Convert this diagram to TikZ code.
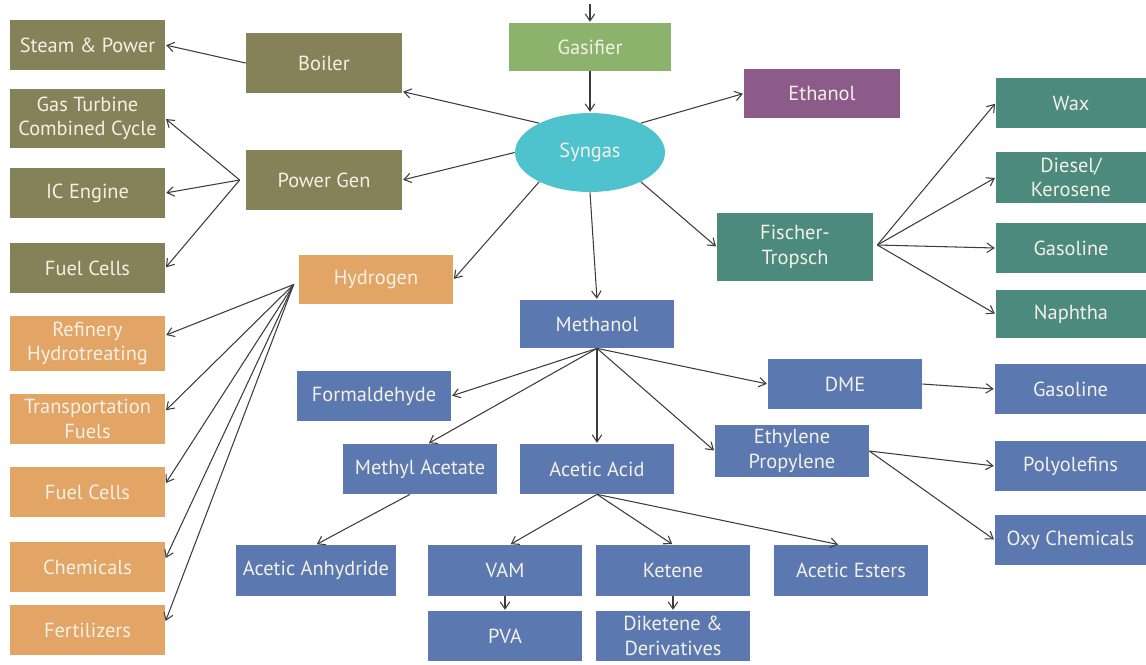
\documentclass[tikz,border=0pt]{standalone}
\usepackage{fontspec}
\setmainfont{PT Sans}
\usetikzlibrary{arrows.meta,calc,shapes.geometric}
\definecolor{cOlive}{HTML}{85825A}
\definecolor{cOrange}{HTML}{E2A566}
\definecolor{cGreen}{HTML}{8CB36C}
\definecolor{cTeal}{HTML}{4EC3CD}
\definecolor{cPurple}{HTML}{8D5B89}
\definecolor{cFT}{HTML}{4B8A7C}
\definecolor{cBlue}{HTML}{5B78B0}
\definecolor{cText}{HTML}{F3F1E6}
\definecolor{cLine}{HTML}{3C3C3C}
\tikzset{
  >={Straight Barb[length=1.4mm,width=1.9mm]},
  box/.style={fill=#1, text=cText, align=center, inner sep=0pt,
              minimum width=3.1cm, minimum height=1cm,
              font=\fontsize{11.6}{14}\selectfont},
  arr/.style={->, draw=cLine, line width=0.6pt, shorten >=0.5pt},
}

\begin{document}
\begin{tikzpicture}[x=0.02cm, y=-0.02cm]
    \useasboundingbox (0,0) rectangle (1146,664);
    % power branch
    \node[box=cOlive] (steam) at (87.5,45) {Steam \& Power};
    \node[box=cOlive, minimum height=1.18cm] (gtcc) at (87.5,118.5) {Gas Turbine\\Combined Cycle};
    \node[box=cOlive] (icengine) at (87.5,193) {IC Engine};
    \node[box=cOlive] (fuelA) at (87.5,268) {Fuel Cells};
    \node[box=cOlive, minimum width=3.12cm, minimum height=1.2cm] (boiler) at (324,63) {Boiler};
    \node[box=cOlive, minimum width=3.12cm, minimum height=1.2cm] (powergen) at (324,180) {Power Gen};
    % core
    \node[box=cGreen, minimum width=3.24cm, minimum height=0.96cm] (gasifier) at (590,47) {Gasifier};
    \node[ellipse, fill=cTeal, text=cText, minimum width=3cm, minimum height=1.58cm,
          inner sep=0pt, font=\fontsize{11.6}{14}\selectfont] (syngas) at (590,152.5) {Syngas};
    \node[box=cPurple, minimum width=3.12cm, minimum height=0.98cm] (ethanol) at (822,93.5) {Ethanol};
    % Fischer-Tropsch branch
    \node[box=cFT, minimum width=3.12cm, minimum height=1.36cm] (ft) at (795,247) {Fischer-\\Tropsch};
    \node[box=cFT, minimum width=3cm] (wax) at (1071,103) {Wax};
    \node[box=cFT, minimum width=3cm, minimum height=1.02cm] (diesel) at (1071,177.5) {Diesel/\\Kerosene};
    \node[box=cFT, minimum width=3cm] (gasFT) at (1071,248) {Gasoline};
    \node[box=cFT, minimum width=3cm, minimum height=0.96cm] (naphtha) at (1071,314) {Naphtha};
    % hydrogen branch
    \node[box=cOrange, minimum width=3.08cm, minimum height=0.98cm] (hydrogen) at (376,279.5) {Hydrogen};
    \node[box=cOrange, minimum height=1.1cm] (refinery) at (87.5,343.5) {Refinery\\Hydrotreating};
    \node[box=cOrange] (transport) at (87.5,419) {Transportation\\Fuels};
    \node[box=cOrange] (fuelB) at (87.5,492) {Fuel Cells};
    \node[box=cOrange] (chemicals) at (87.5,567) {Chemicals};
    \node[box=cOrange] (fertilizers) at (87.5,630) {Fertilizers};
    % methanol branch
    \node[box=cBlue, minimum width=3.08cm, minimum height=0.96cm] (methanol) at (597,324) {Methanol};
    \node[box=cBlue, minimum width=3.08cm] (formaldehyde) at (374,396) {Formaldehyde};
    \node[box=cBlue, minimum width=3.08cm] (dme) at (845,384) {DME};
    \node[box=cBlue, minimum width=3.02cm] (gasDME) at (1070.5,389) {Gasoline};
    \node[box=cBlue, minimum width=3.08cm] (methylac) at (420,469) {Methyl Acetate};
    \node[box=cBlue, minimum width=3.08cm] (aceticacid) at (597,469) {Acetic Acid};
    \node[box=cBlue, minimum width=3.08cm, minimum height=1.04cm] (ethylene) at (792,451) {Ethylene\\Propylene};
    \node[box=cBlue, minimum width=3.02cm] (polyolefins) at (1070.5,466) {Polyolefins};
    \node[box=cBlue, minimum width=3.02cm] (oxy) at (1070.5,540) {Oxy Chemicals};
    \node[box=cBlue, minimum width=3.2cm, minimum height=1.02cm] (anhydride) at (316,570.5) {Acetic Anhydride};
    \node[box=cBlue, minimum width=3.08cm, minimum height=1.02cm] (vam) at (505,570.5) {VAM};
    \node[box=cBlue, minimum width=3.08cm, minimum height=1.02cm] (ketene) at (673,570.5) {Ketene};
    \node[box=cBlue, minimum width=3.08cm, minimum height=1.02cm] (esters) at (851,570.5) {Acetic Esters};
    \node[box=cBlue, minimum width=3.08cm] (pva) at (505,636) {PVA};
    \node[box=cBlue, minimum width=3.08cm] (diketene) at (673,636) {Diketene \&\\Derivatives};
    % fan-out points
    \coordinate (feed) at (590,4);
    \coordinate (pgfan) at ($(powergen.west)+(-6,0)$);
    \coordinate (h2fan) at ($(hydrogen.west)+(-5,5)$);
    \coordinate (ftfan) at ($(ft.east)+(4,-2)$);
    % connectors
    \draw[arr] (feed) -- (gasifier.north);
    \draw[arr] (gasifier.south) -- (syngas.north);
    \draw[arr] (syngas.150) -- (boiler.-20);
    \draw[arr] (boiler.west) -- (steam.east);
    \draw[arr] (syngas.west) -- (powergen.east);
    \foreach \t in {gtcc,icengine,fuelA} \draw[arr] (pgfan) -- (\t.east);
    \draw[arr] (syngas.210) -- (hydrogen.east);
    \foreach \t in {refinery,transport,fuelB,chemicals,fertilizers} \draw[arr] (h2fan) -- (\t.6);
    \draw[arr] (syngas.30) -- (ethanol.west);
    \draw[arr] (syngas.-30) -- (ft.west);
    \foreach \t in {wax,diesel,gasFT,naphtha} \draw[arr] (ftfan) -- (\t.west);
    \draw[arr] (syngas.south) -- (methanol.north);
    \draw[arr] (methanol.south) -- (formaldehyde.east);
    \draw[arr] (methanol.south) -- ($(methylac.north)+(8,0)$);
    \draw[arr] (methanol.south) -- (aceticacid.north);
    \draw[arr] (methanol.south) -- (ethylene.west);
    \draw[arr] (methanol.south) -- (dme.west);
    \draw[arr] (dme.east) -- (gasDME.west);
    \draw[arr] (ethylene.east) -- (polyolefins.west);
    \draw[arr] (ethylene.east) -- (oxy.west);
    \draw[arr] ($(methylac.south)+(-10,0)$) -- (anhydride.north);
    \draw[arr] (aceticacid.south) -- ($(vam.north)+(5,0)$);
    \draw[arr] (aceticacid.south) -- (ketene.north);
    \draw[arr] (aceticacid.south) -- ($(esters.north)+(-12,0)$);
    \draw[arr] (vam.south) -- (pva.north);
    \draw[arr] (ketene.south) -- (diketene.north);
\end{tikzpicture}
\end{document}
